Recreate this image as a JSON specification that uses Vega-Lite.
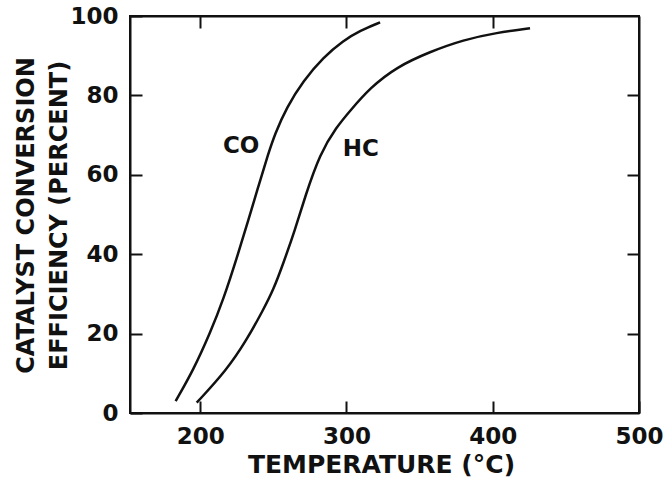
{
  "$schema": "https://vega.github.io/schema/vega-lite/v6.json",
  "width": 509,
  "height": 397,
  "autosize": {"type": "none"},
  "padding": {"left": 130, "top": 16, "right": 29, "bottom": 64},
  "background": "white",
  "config": {
    "view": {"stroke": "#111", "strokeWidth": 2},
    "font": "DejaVu Sans",
    "axis": {
      "grid": false,
      "domainColor": "#111",
      "domainWidth": 2,
      "tickColor": "#111",
      "tickWidth": 2,
      "tickSize": -12,
      "labelFont": "DejaVu Sans",
      "labelFontWeight": "bold",
      "labelFontSize": 23,
      "labelColor": "#111",
      "labelFlush": false,
      "titleFont": "DejaVu Sans",
      "titleFontWeight": "bold",
      "titleColor": "#111"
    }
  },
  "datasets": {
    "curves": [
      {"gas": "CO", "T": 183.2, "v": 3.0},
      {"gas": "CO", "T": 195.3, "v": 10.8},
      {"gas": "CO", "T": 206.7, "v": 20.1},
      {"gas": "CO", "T": 215.8, "v": 28.5},
      {"gas": "CO", "T": 226.0, "v": 40.2},
      {"gas": "CO", "T": 232.9, "v": 48.6},
      {"gas": "CO", "T": 239.7, "v": 57.0},
      {"gas": "CO", "T": 246.6, "v": 65.4},
      {"gas": "CO", "T": 251.1, "v": 70.3},
      {"gas": "CO", "T": 259.1, "v": 77.0},
      {"gas": "CO", "T": 270.5, "v": 83.7},
      {"gas": "CO", "T": 284.2, "v": 89.6},
      {"gas": "CO", "T": 297.8, "v": 93.8},
      {"gas": "CO", "T": 309.3, "v": 96.3},
      {"gas": "CO", "T": 323.0, "v": 98.4},
      {"gas": "HC", "T": 197.6, "v": 2.6},
      {"gas": "HC", "T": 218.1, "v": 10.8},
      {"gas": "HC", "T": 231.8, "v": 18.4},
      {"gas": "HC", "T": 243.1, "v": 26.0},
      {"gas": "HC", "T": 250.0, "v": 31.0},
      {"gas": "HC", "T": 256.8, "v": 37.7},
      {"gas": "HC", "T": 264.8, "v": 46.1},
      {"gas": "HC", "T": 271.6, "v": 54.4},
      {"gas": "HC", "T": 281.9, "v": 65.4},
      {"gas": "HC", "T": 293.3, "v": 72.1},
      {"gas": "HC", "T": 302.4, "v": 76.1},
      {"gas": "HC", "T": 316.1, "v": 81.9},
      {"gas": "HC", "T": 334.4, "v": 87.2},
      {"gas": "HC", "T": 357.1, "v": 91.0},
      {"gas": "HC", "T": 379.9, "v": 94.0},
      {"gas": "HC", "T": 402.7, "v": 95.8},
      {"gas": "HC", "T": 425.5, "v": 96.9}
    ],
    "labels": [
      {"label": "CO", "T": 228, "v": 67.3},
      {"label": "HC", "T": 309.8, "v": 66.5}
    ]
  },
  "layer": [
    {
      "data": {"name": "curves"},
      "mark": {"type": "line", "color": "#111", "strokeWidth": 2.5, "interpolate": "basis"},
      "encoding": {
        "x": {
          "field": "T",
          "type": "quantitative",
          "scale": {"domain": [152, 500], "nice": false, "zero": false},
          "axis": {
            "orient": "bottom",
            "values": [200, 300, 400, 500],
            "labelPadding": 24,
            "title": "TEMPERATURE (°C)",
            "titleFontSize": 25,
            "titleBaseline": "alphabetic",
            "titleY": 59,
            "titleX": 251
          }
        },
        "y": {
          "field": "v",
          "type": "quantitative",
          "scale": {"domain": [0, 100], "nice": false},
          "axis": {
            "orient": "left",
            "values": [0, 20, 40, 60, 80, 100],
            "labelPadding": 24,
            "title": ["CATALYST CONVERSION", "EFFICIENCY (PERCENT)"],
            "titleFontSize": 24,
            "titleLineHeight": 33,
            "titleAngle": 270,
            "titleAlign": "center",
            "titleBaseline": "alphabetic",
            "titleX": -97,
            "titleY": 199
          }
        },
        "detail": {"field": "gas"}
      }
    },
    {
      "data": {"name": "labels"},
      "mark": {"type": "text", "fontSize": 23, "fontWeight": "bold", "font": "DejaVu Sans", "color": "#111"},
      "encoding": {
        "x": {
          "field": "T",
          "type": "quantitative",
          "axis": {"orient": "top", "values": [200, 300, 400], "labels": false, "title": null}
        },
        "y": {
          "field": "v",
          "type": "quantitative",
          "axis": {"orient": "right", "values": [20, 40, 60, 80], "labels": false, "title": null}
        },
        "text": {"field": "label"}
      }
    }
  ]
}
